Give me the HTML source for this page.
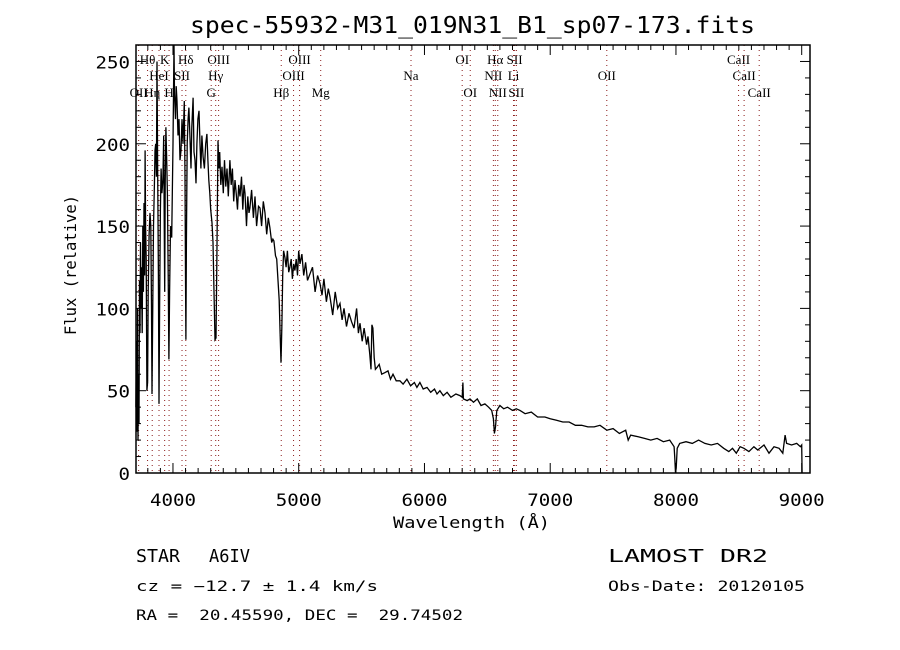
<!DOCTYPE html>
<html><head><meta charset="utf-8"><style>
html,body{margin:0;padding:0;background:#fff}
svg{display:block}
text{font-family:"DejaVu Sans Mono","Liberation Mono",monospace;fill:#000}
.lab{font-family:"Liberation Serif",serif;font-size:13px}
</style></head><body>
<svg id="chart" width="900" height="650" viewBox="0 0 900 650" xmlns="http://www.w3.org/2000/svg">
<rect x="0" y="0" width="900" height="650" fill="#fff"/>
<text x="190" y="33" font-size="23" textLength="565" lengthAdjust="spacingAndGlyphs">spec-55932-M31_019N31_B1_sp07-173.fits</text>
<g id="lines"></g>
<g id="spec"></g>
<g id="axes"></g>
<text x="393" y="528" font-size="16" textLength="157" lengthAdjust="spacingAndGlyphs">Wavelength (Å)</text>
<text x="76" y="335" font-size="16" textLength="140" lengthAdjust="spacingAndGlyphs" transform="rotate(-90 76 335)">Flux (relative)</text>
<text x="136" y="562" font-size="18" textLength="44" lengthAdjust="spacingAndGlyphs">STAR</text>
<text x="209" y="562" font-size="18" textLength="41" lengthAdjust="spacingAndGlyphs">A6IV</text>
<text x="608" y="562" font-size="18" textLength="160" lengthAdjust="spacingAndGlyphs">LAMOST DR2</text>
<text x="136" y="591" font-size="14" textLength="242" lengthAdjust="spacingAndGlyphs">cz = −12.7 ± 1.4 km/s</text>
<text x="608" y="591" font-size="14" textLength="197" lengthAdjust="spacingAndGlyphs">Obs-Date: 20120105</text>
<text x="136" y="620" font-size="14" xml:space="preserve" textLength="327" lengthAdjust="spacingAndGlyphs">RA =  20.45590, DEC =  29.74502</text>
</svg>
<script>
const waves=[3705,3710,3714,3718,3722,3726,3730,3734,3738,3742,3746,3750,3755,3760,3765,3770,3775,3778,3782,3787,3793,3798,3803,3810,3817,3824,3829,3833,3838,3845,3852,3857,3863,3868,3873,3878,3884,3889,3894,3900,3906,3912,3920,3926,3930,3934,3938,3944,3950,3956,3962,3968,3973,3980,3990,4000,4008,4012,4020,4026,4032,4040,4048,4056,4064,4072,4080,4090,4096,4100,4103,4107,4113,4120,4127,4135,4143,4150,4160,4167,4175,4183,4190,4198,4207,4215,4222,4230,4240,4250,4260,4270,4278,4285,4293,4300,4310,4318,4326,4334,4342,4348,4354,4358,4365,4372,4380,4390,4400,4410,4420,4430,4440,4453,4463,4473,4483,4493,4503,4513,4523,4533,4545,4555,4565,4573,4585,4595,4605,4612,4625,4640,4652,4665,4680,4692,4705,4718,4732,4745,4758,4771,4785,4795,4803,4815,4825,4835,4845,4852,4859,4866,4873,4880,4890,4900,4910,4920,4930,4940,4950,4960,4970,4980,4990,5000,5010,5025,5040,5055,5070,5090,5110,5130,5150,5169,5185,5200,5220,5235,5249,5270,5290,5310,5328,5345,5360,5380,5400,5420,5440,5460,5475,5487,5505,5520,5540,5551,5565,5575,5582,5590,5600,5610,5622,5640,5660,5686,5710,5730,5750,5775,5805,5830,5860,5890,5920,5940,5964,5990,6020,6050,6080,6100,6123,6150,6180,6210,6250,6282,6300,6306,6310,6340,6362,6390,6420,6450,6481,6510,6535,6548,6556,6565,6575,6600,6630,6660,6700,6730,6760,6800,6850,6900,6958,7000,7050,7100,7150,7200,7250,7300,7350,7396,7450,7500,7550,7600,7620,7640,7700,7750,7800,7850,7900,7950,7985,7990,7996,8002,8010,8030,8080,8130,8180,8230,8280,8330,8380,8420,8450,8480,8510,8540,8580,8620,8650,8700,8740,8780,8820,8850,8868,8880,8920,8960,8990,9000,9003];
const flux=[40,80,25,100,20,60,30,117,85,140,100,125,85,150,110,164,120,196,150,130,50,55,110,145,158,150,100,48,90,150,175,196,200,180,250,190,120,42,100,160,185,170,178,205,155,110,175,210,190,170,120,69,110,150,143,200,260,230,215,235,226,205,215,190,196,215,200,226,180,120,81,140,200,215,222,205,185,210,228,195,190,176,200,215,220,200,185,205,192,185,200,206,190,178,170,160,152,140,110,81,82,120,170,202,185,195,175,186,170,190,174,185,168,190,175,185,165,178,170,160,175,168,180,160,175,170,150,168,158,161,172,155,168,150,162,161,150,165,158,145,155,149,140,142,141,132,130,117,105,85,67,90,120,135,131,125,135,122,125,130,118,127,123,130,120,135,127,133,120,128,117,121,125,110,120,115,108,118,104,112,107,96,110,100,103,93,100,89,97,92,88,100,85,91,80,88,78,83,72,63,90,88,70,63,64,66,60,61,62,57,60,56,56,54,57,53,55,52,55,51,52,49,51,48,50,47,49,46,48,47,46,55,45,44,45,43,45,41,42,40,38,33,24,28,38,41,39,40,38,39,38,36,37,34,34,33,32,31,31,29,29,28,28,29,26,27,24,26,20,23,22,21,20,21,19,20,16,10,0,3,15,18,19,18,20,18,17,18,15,13,15,12,16,15,13,16,14,17,12,16,15,12,23,18,17,18,16,17,0];
const lineWaves=[3727,3798,3835,3889,3934,3969,4072,4102,4304,4340,4363,4861,4959,5007,5175,5893,6300,6364,6548,6563,6583,6708,6717,6731,7450,8498,8542,8662];
const lineLabels=["OII","Hθ","Hη","HeI","K","H","SII","Hδ","G","Hγ","OIII","Hβ","OIII","OIII","Mg","Na","OI","OI","NII","Hα","NII","Li","SII","SII","OII","CaII","CaII","CaII"];
const lineRows=[3,1,3,2,1,3,2,1,3,2,1,3,2,1,3,2,1,3,2,1,3,2,1,3,2,1,2,3];
const xTicks=[4000,5000,6000,7000,8000,9000];
const yTicks=[0,50,100,150,200,250];

const L=136,R=810,T=45,B=473;
const X0=3706,X1=9066,Y0=0,Y1=260;
const sx=w=>L+(w-X0)/(X1-X0)*(R-L);
const sy=f=>B-(f-Y0)/(Y1-Y0)*(B-T);
const NS="http://www.w3.org/2000/svg";
function mk(tag,attrs,parent){const e=document.createElementNS(NS,tag);for(const k in attrs)e.setAttribute(k,attrs[k]);parent.appendChild(e);return e;}

const gl=document.getElementById('lines');
const rowY={1:64,2:80,3:97};
lineWaves.forEach((w,i)=>{
  const x=sx(w);
  const ln=mk('line',{x1:x,y1:T,x2:x,y2:B,stroke:'#8b1a1a','stroke-width':1,'stroke-dasharray':'1,4'},gl);
  
  
  const tx=mk('text',{x:x,y:rowY[lineRows[i]],'text-anchor':'middle',class:'lab'},gl);
  tx.textContent=lineLabels[i];
  
  
});

const gs=document.getElementById('spec');
let d='';
waves.forEach((w,i)=>{d+=(i?'L':'M')+sx(w).toFixed(1)+','+sy(Math.min(flux[i],Y1)).toFixed(1);});
const p=mk('path',{d:d,fill:'none',stroke:'#000','stroke-width':1.3},gs);



const ga=document.getElementById('axes');
const fr=mk('rect',{x:L,y:T,width:R-L,height:B-T,fill:'none',stroke:'#000','stroke-width':1.5},ga);


for(let w=3800;w<=9000;w+=100){
  const x=sx(w),len=(w%1000===0)?10:5;
  mk('line',{x1:x,y1:B,x2:x,y2:B-len,stroke:'#000'},ga);
  mk('line',{x1:x,y1:T,x2:x,y2:T+len,stroke:'#000'},ga);
}
xTicks.forEach(w=>{
  const t=mk('text',{x:sx(w)-23,y:B+33,'font-size':17,textLength:46,lengthAdjust:'spacingAndGlyphs'},ga);
  t.textContent=w;
  
  
});
for(let f=0;f<=260;f+=10){
  const y=sy(f),len=(f%50===0)?10:5;
  mk('line',{x1:L,y1:y,x2:L+len,y2:y,stroke:'#000'},ga);
  mk('line',{x1:R,y1:y,x2:R-len,y2:y,stroke:'#000'},ga);
}
yTicks.forEach(f=>{
  const s=String(f);
  const t=mk('text',{x:L-6-s.length*11.5,y:sy(f)+7,'font-size':17,textLength:s.length*11.5,lengthAdjust:'spacingAndGlyphs'},ga);
  t.textContent=s;
  
  
});
</script>
</body></html>
